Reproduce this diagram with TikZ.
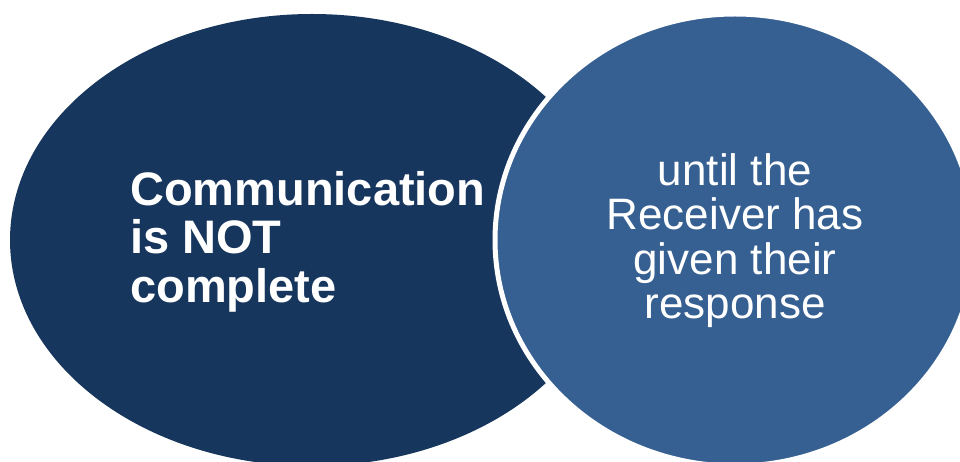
\documentclass[tikz,border=0pt]{standalone}
\usepackage{fontspec}
\setmainfont{Liberation Sans}
\definecolor{navy}{HTML}{17365D}
\definecolor{midblue}{HTML}{376092}
\tikzset{
  lefttext/.style={text=white, font=\fontsize{47}{48.5}\selectfont\bfseries, align=left, inner sep=0pt},
  righttext/.style={text=white, font=\fontsize{44}{44.5}\selectfont, align=center, inner sep=0pt}
}
\usetikzlibrary{shapes.geometric}
\begin{document}
\begin{tikzpicture}[x=1pt,y=-1pt]
\useasboundingbox (0,0) rectangle (960,462);
\begin{scope}
\clip (0,0) rectangle (960,462);
\fill[navy] (312,240) ellipse [x radius=302, y radius=226];
\filldraw[fill=midblue, draw=white, line width=5pt] (735,240) ellipse [x radius=240, y radius=226];
\end{scope}
\node[lefttext, anchor=base west] (l) at (130,302) {Communication\\is NOT\\complete};
\node[righttext, anchor=base] (r) at (735,318.5) {until the\\Receiver has\\given their\\response};
\end{tikzpicture}
\end{document}
